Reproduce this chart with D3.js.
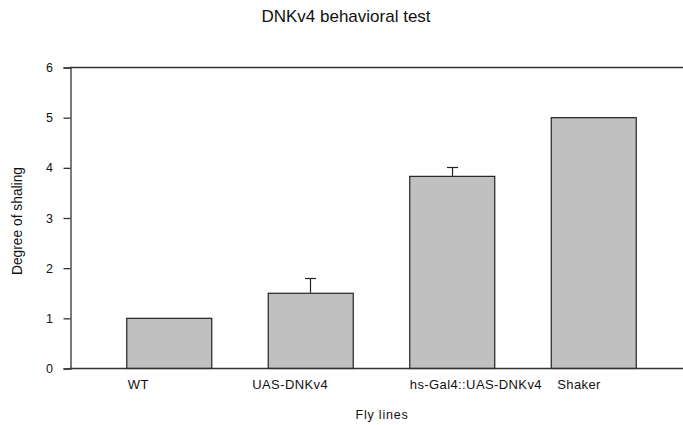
<!DOCTYPE html>
<html>
<head>
<meta charset="utf-8">
<script src="https://cdn.jsdelivr.net/npm/d3@7"></script>
<style>
  body { margin: 0; background: #fff; }
  text { font-family: "Liberation Sans", Arial, sans-serif; fill: #111; }
</style>
</head>
<body>
<svg id="chart" width="683" height="425"></svg>
<script>
// data
const flyLines = ["WT", "UAS-DNKv4", "hs-Gal4::UAS-DNKv4", "Shaker"];
const shaking = [1.0, 1.5, 3.83, 5.0];
const errUp = [0, 0.29, 0.17, 0];
const yTicks = [0, 1, 2, 3, 4, 5, 6];

// label shift from the bar centre (the original labels are not centred)
const labelShift = [-41, -58, -42, -36];

const svg = d3.select("#chart");
const margin = { left: 70, right: 0, top: 67, bottom: 57 };
const width = 683, height = 425;

const x = d3.scaleLinear()
    .domain([0, flyLines.length])
    .range([98, 664]);
const barW = 85;
const y = d3.scaleLinear().domain([0, 6]).range([height - margin.bottom, margin.top]);

const g = svg.append("g");

// bars
g.selectAll("rect.bar").data(shaking).enter()
    .append("rect")
    .attr("class", "bar")
    .attr("x", (d, i) => x(i + 0.5) - barW / 2 + 0.5)
    .attr("y", d => y(d) + 0.5)
    .attr("width", barW)
    .attr("height", d => y(0) - y(d))
    .attr("fill", "#c0c0c0")
    .attr("stroke", "#222")
    .attr("stroke-width", 1.2);

// error bars, upper half only
const errs = shaking.map((v, i) => ({ i, v, e: errUp[i] })).filter(d => d.e > 0);
g.selectAll("line.err").data(errs).enter()
    .append("line")
    .attr("x1", d => Math.round(x(d.i + 0.5)) + 0.5)
    .attr("x2", d => Math.round(x(d.i + 0.5)) + 0.5)
    .attr("y1", d => y(d.v))
    .attr("y2", d => y(d.v + d.e))
    .attr("stroke", "#222")
    .attr("stroke-width", 1.2);
g.selectAll("line.cap").data(errs).enter()
    .append("line")
    .attr("x1", d => Math.round(x(d.i + 0.5)) - 5)
    .attr("x2", d => Math.round(x(d.i + 0.5)) + 6)
    .attr("y1", d => Math.round(y(d.v + d.e)) + 0.5)
    .attr("y2", d => Math.round(y(d.v + d.e)) + 0.5)
    .attr("stroke", "#222")
    .attr("stroke-width", 1.2);

// frame: left axis plus top and bottom lines running to the edge
const yAxis = d3.axisLeft(y).tickValues(yTicks).tickSize(7).tickPadding(10).tickFormat(d3.format("d"));
const ya = svg.append("g")
    .attr("transform", `translate(${margin.left + 0.5},0.5)`)
    .call(yAxis);
ya.select(".domain").attr("stroke", "#333").attr("stroke-width", 1.3);
ya.selectAll(".tick line").attr("stroke", "#333").attr("stroke-width", 1.3);
ya.selectAll(".tick text").attr("font-size", 12.5).attr("fill", "#111")
    .attr("font-family", "'Liberation Sans', Arial, sans-serif")
    .attr("letter-spacing", 0.5);

svg.append("line")
    .attr("x1", margin.left).attr("x2", width)
    .attr("y1", y(0) + 0.5).attr("y2", y(0) + 0.5)
    .attr("stroke", "#333").attr("stroke-width", 1.3);
svg.append("line")
    .attr("x1", margin.left).attr("x2", width)
    .attr("y1", y(6) + 0.5).attr("y2", y(6) + 0.5)
    .attr("stroke", "#333").attr("stroke-width", 1.3);

// category labels
svg.selectAll("text.cat").data(flyLines).enter()
    .append("text")
    .attr("class", "cat")
    .attr("x", (d, i) => x(i + 0.5) + labelShift[i])
    .attr("y", 389)
    .attr("font-size", 13)
    .attr("letter-spacing", 0.4)
    .text(d => d);

// titles
svg.append("text")
    .attr("x", 346).attr("y", 22)
    .attr("text-anchor", "middle")
    .attr("font-size", 17)
    .text("DNKv4 behavioral test");

svg.append("text")
    .attr("x", 382).attr("y", 419)
    .attr("text-anchor", "middle")
    .attr("font-size", 12.5)
    .attr("letter-spacing", 0.8)
    .text("Fly lines");

svg.append("text")
    .attr("transform", "translate(22,221) rotate(-90)")
    .attr("text-anchor", "middle")
    .attr("font-size", 15.5)
    .attr("textLength", 108)
    .attr("lengthAdjust", "spacingAndGlyphs")
    .text("Degree of shaling");
</script>
</body>
</html>
